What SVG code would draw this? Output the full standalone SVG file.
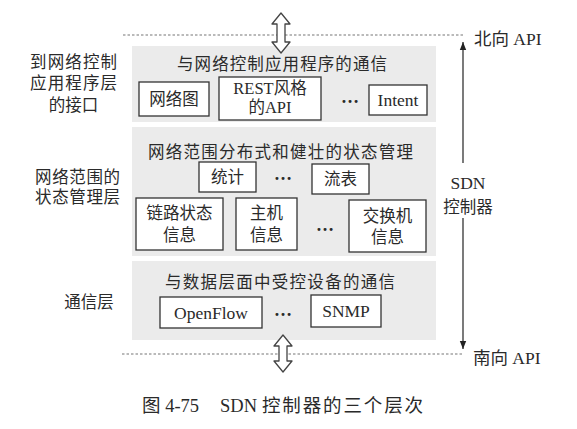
<svg xmlns="http://www.w3.org/2000/svg" width="577" height="429" viewBox="0 0 577 429">
<style>
text{font-family:"Liberation Serif","Noto Sans CJK SC",serif;fill:#2a2a2a;dominant-baseline:central}
.t{font-size:16.5px}
.lbl{font-size:16.5px;text-anchor:middle}
.lat{font-size:17.5px}
.bx{fill:#fff;stroke:#333;stroke-width:1.3}
.panel{fill:#ebebeb}
.dash{stroke:#777;stroke-width:1.2;stroke-dasharray:2.5 2;fill:none}
.dots{font-size:18px;font-weight:bold;text-anchor:middle}
.dbl{fill:#fff;stroke:#444;stroke-width:1.3;stroke-linejoin:round}
</style>
<defs>
<marker id="ah" viewBox="0 0 8 10" refX="8" refY="5" markerWidth="8" markerHeight="10" markerUnits="userSpaceOnUse" orient="auto">
<path d="M0,1.8 L8,5 L0,8.2 Z" fill="#222"/>
</marker>
</defs>

<rect width="577" height="429" fill="#fff"/>

<g id="layer-app">
<rect class="panel" x="132" y="46" width="304" height="76"/>
<text class="t" x="177" y="64" textLength="210" lengthAdjust="spacing">与网络控制应用程序的通信</text>
<g id="node-netgraph"><rect class="bx" x="139" y="82" width="70" height="34"/><text class="lbl" x="174" y="99">网络图</text></g>
<g id="node-rest"><rect class="bx" x="219" y="77" width="102" height="43"/><text class="lbl" x="270" y="88" style="font-size:16.5px">REST风格</text><text class="lbl" x="270" y="107.5" style="font-size:16.5px">的API</text></g>
<text class="dots" x="350" y="97">…</text>
<g id="node-intent"><rect class="bx" x="369" y="85" width="58" height="30"/><text class="lbl lat" x="398" y="100">Intent</text></g>
</g>

<g id="layer-state">
<rect class="panel" x="132" y="127" width="304" height="129"/>
<text class="t" x="148" y="152" textLength="265" lengthAdjust="spacing">网络范围分布式和健壮的状态管理</text>
<g id="node-stats"><rect class="bx" x="199" y="162" width="57" height="30"/><text class="lbl" x="227.5" y="177">统计</text></g>
<text class="dots" x="283" y="174">…</text>
<g id="node-flowtable"><rect class="bx" x="312" y="164" width="57" height="30"/><text class="lbl" x="340.5" y="179">流表</text></g>
<g id="node-linkstate"><rect class="bx" x="136" y="198" width="87" height="52"/><text class="lbl" x="179.5" y="213">链路状态</text><text class="lbl" x="179.5" y="235">信息</text></g>
<g id="node-host"><rect class="bx" x="236" y="198" width="61" height="52"/><text class="lbl" x="266.5" y="213">主机</text><text class="lbl" x="266.5" y="235">信息</text></g>
<text class="dots" x="325" y="225">…</text>
<g id="node-switch"><rect class="bx" x="349" y="200" width="77" height="52"/><text class="lbl" x="387.5" y="216">交换机</text><text class="lbl" x="387.5" y="237">信息</text></g>
</g>

<g id="layer-comm">
<rect class="panel" x="132" y="261" width="304" height="79"/>
<text class="t" x="165" y="282" textLength="230" lengthAdjust="spacing">与数据层面中受控设备的通信</text>
<g id="node-openflow"><rect class="bx" x="160" y="297" width="102" height="31"/><text class="lbl lat" x="211" y="312.5">OpenFlow</text></g>
<text class="dots" x="283" y="310">…</text>
<g id="node-snmp"><rect class="bx" x="311" y="295" width="70" height="32"/><text class="lbl lat" x="346" y="311">SNMP</text></g>
</g>

<g id="side-labels">
<text class="t" x="30" y="62" textLength="87" lengthAdjust="spacing">到网络控制</text>
<text class="t" x="30" y="83.5" textLength="87" lengthAdjust="spacing">应用程序层</text>
<text class="lbl" x="73.5" y="105">的接口</text>
<text class="t" x="35" y="177" textLength="85" lengthAdjust="spacing">网络范围的</text>
<text class="t" x="35" y="197" textLength="85" lengthAdjust="spacing">状态管理层</text>
<text class="lbl" x="89" y="302">通信层</text>
<text class="t" x="474" y="39" style="font-size:17.5px">北向 API</text>
<text class="t" x="473" y="358" style="font-size:17.5px">南向 API</text>
<text class="lbl lat" x="468" y="183">SDN</text>
<text class="lbl" x="468" y="207">控制器</text>
</g>

<g id="connectors">
<line class="dash" x1="123" y1="35" x2="463" y2="35"/>
<line class="dash" x1="122" y1="354" x2="463" y2="354"/>
<line x1="463" y1="163" x2="463" y2="42" stroke="#222" stroke-width="1.2" marker-end="url(#ah)"/>
<line x1="463" y1="218" x2="463" y2="349" stroke="#222" stroke-width="1.2" marker-end="url(#ah)"/>
<path class="dbl" d="M281,13 L290,24 L285,24 L285,42 L290,42 L281,53 L272,42 L277,42 L277,24 L272,24 Z"/>
<path class="dbl" d="M283,335 L292,346 L287,346 L287,361 L292,361 L283,372 L274,361 L279,361 L279,346 L274,346 Z"/>
</g>

<g id="caption">
<text x="142" y="406" style="font-size:18.5px">图 4-75</text>
<text x="220" y="406" style="font-size:18.5px">SDN</text>
<text x="262" y="406" style="font-size:18.5px" textLength="161" lengthAdjust="spacing">控制器的三个层次</text>
</g>
</svg>
